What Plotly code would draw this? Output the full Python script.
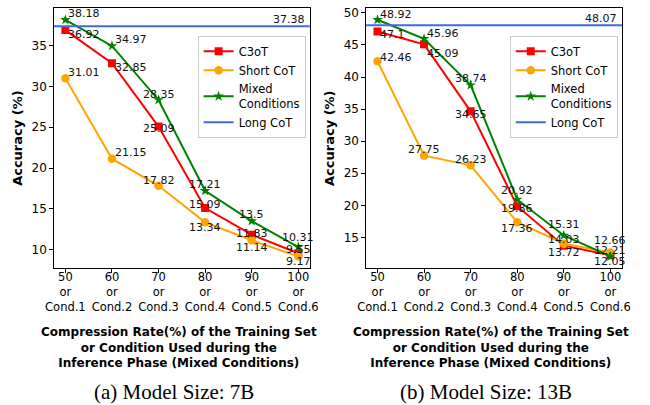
import plotly.graph_objects as go

# ---------------- data ----------------
x_rates = [50, 60, 70, 80, 90, 100]
tick_labels = ["50<br>or<br>Cond.1", "60<br>or<br>Cond.2", "70<br>or<br>Cond.3",
               "80<br>or<br>Cond.4", "90<br>or<br>Cond.5", "100<br>or<br>Cond.6"]

c3ot_7b = [36.92, 32.85, 25.09, 15.09, 11.83, 9.55]
short_7b = [31.01, 21.15, 17.82, 13.34, 11.14, 9.17]
mixed_7b = [38.18, 34.97, 28.35, 17.21, 13.5, 10.31]
long_7b = 37.38

c3ot_13b = [47.1, 45.09, 34.65, 19.86, 13.72, 12.21]
short_13b = [42.46, 27.75, 26.23, 17.36, 14.03, 12.66]
mixed_13b = [48.92, 45.96, 38.74, 20.92, 15.31, 12.05]
long_13b = 48.07

series_names = ["C3oT", "Short CoT", "Mixed<br>Conditions", "Long CoT"]
captions = ["(a) Model Size: 7B", "(b) Model Size: 13B"]
x_title = ("Compression Rate(%) of the Training Set<br>"
           "or Condition Used during the<br>Inference Phase (Mixed Conditions)")
y_title = "Accuracy (%)"

# ---------------- label placement (pixel offsets: anchor, dx, dy) ----------------
lab_7b = {
    "c3ot": [("left", 1, -4), ("left", 1, -4), ("center", 0, -2), ("center", 0, 4), ("center", 0, 1), ("center", 0, 3.5)],
    "short": [("left", 1, 6), ("left", 1, 6), ("center", 0, 5), ("center", 0, -5), ("center", 0, -7), ("center", 0, -5)],
    "mixed": [("left", 1, 6), ("left", 1, 6), ("center", 0, 5), ("center", 0, 6), ("center", 0, 6.5), ("center", 0, 10)],
}
lab_13b = {
    "c3ot": [("left", 1, -3), ("left", 1, -9), ("center", 0, -3.5), ("center", 0, -2), ("center", 0, -7), ("center", 0, 5)],
    "short": [("left", 1, 4), ("center", 0, 6), ("center", 0, 6), ("center", 0, -6), ("center", 0, 4), ("center", 0, 12)],
    "mixed": [("left", 1, 5), ("left", 1, 5.5), ("center", 0, 7), ("center", 0, 8.6), ("center", 0, 11), ("center", 0, -5)],
}

W, H = 650, 405
FONT = "DejaVu Sans"
colors = {"c3ot": "#ff0000", "short": "#ffa500", "mixed": "#008000", "long": "#4169e1"}
symbols = {"c3ot": "square", "short": "circle", "mixed": "star"}
msize = {"c3ot": 8, "short": 8.5, "mixed": 8}

# plot areas in pixels
areas = [(46, 309.5), (367, 630.5)]
y_top, y_bot = 6, 267.5


def pad_range(vals):
    lo, hi = min(vals), max(vals)
    m = 0.05 * (hi - lo)
    return [lo - m, hi + m]


fig = go.Figure()
annotations = []
panels = [
    (c3ot_7b, short_7b, mixed_7b, long_7b, lab_7b),
    (c3ot_13b, short_13b, mixed_13b, long_13b, lab_13b),
]

for i, (c3, sh, mx, lg, labs) in enumerate(panels):
    xa = "x" if i == 0 else "x2"
    ya = "y" if i == 0 else "y2"
    leg = "legend" if i == 0 else "legend2"
    xr = pad_range(x_rates)
    yr = pad_range(c3 + sh + mx + [lg])
    data = {"c3ot": c3, "short": sh, "mixed": mx}
    for k, name in zip(["c3ot", "short", "mixed"], series_names[:3]):
        fig.add_trace(go.Scatter(
            x=x_rates, y=data[k], mode="lines+markers", name=name,
            line=dict(color=colors[k], width=2),
            marker=dict(symbol=symbols[k], size=msize[k], color=colors[k],
                        line=dict(width=0)),
            xaxis=xa, yaxis=ya, legend=leg,
        ))
    fig.add_trace(go.Scatter(
        x=xr, y=[lg, lg], mode="lines", name=series_names[3],
        line=dict(color=colors["long"], width=2),
        xaxis=xa, yaxis=ya, legend=leg,
    ))
    # data labels
    for k in ["c3ot", "short", "mixed"]:
        for xv, yv, (anc, dx, dy) in zip(x_rates, data[k], labs[k]):
            annotations.append(dict(
                x=xv, y=yv, xref=xa, yref=ya, text=f"{yv:g}", showarrow=False,
                xanchor=anc, yanchor="middle", xshift=dx, yshift=dy,
                font=dict(family=FONT, size=11, color="#111111"),
            ))
    annotations.append(dict(
        x=xr[1], y=lg, xref=xa, yref=ya, text=f"{lg:g}", showarrow=False,
        xanchor="right", yanchor="middle", xshift=-3, yshift=7,
        font=dict(family=FONT, size=11, color="#111111"),
    ))
    x0, x1 = areas[i]
    cx = (x0 + x1) / 2
    # x title
    annotations.append(dict(
        x=(cx - 3) / W, y=1 - 323 / H, xref="paper", yref="paper",
        text="<b>" + x_title.replace("<br>", "</b><br><b>") + "</b>",
        showarrow=False, xanchor="center", yanchor="top", align="center",
        font=dict(family=FONT, size=12, color="black"),
    ))
    # y title
    annotations.append(dict(
        x=(x0 - 38) / W, y=1 - (y_top + y_bot) / 2 / H, xref="paper", yref="paper",
        text="<b>" + y_title + "</b>", textangle=-90, showarrow=False,
        xanchor="center", yanchor="middle",
        font=dict(family=FONT, size=13, color="black"),
    ))
    # caption
    annotations.append(dict(
        x=(cx - 8) / W, y=1 - 392 / H, xref="paper", yref="paper",
        text=captions[i], showarrow=False, xanchor="center", yanchor="middle",
        font=dict(family="Liberation Serif", size=21, color="black"),
    ))

    axis_common = dict(showline=True, linecolor="black", linewidth=1, mirror=True,
                       ticks="outside", ticklen=3.5, tickwidth=1, tickcolor="black",
                       showgrid=False, zeroline=False)
    fig.update_layout(**{
        ("xaxis" if i == 0 else "xaxis2"): dict(
            domain=[x0 / W, x1 / W], range=xr, tickvals=x_rates, ticktext=tick_labels,
            anchor=ya, tickfont=dict(family=FONT, size=11.5, color="black"),
            ticklabelstandoff=-5, **axis_common),
        ("yaxis" if i == 0 else "yaxis2"): dict(
            domain=[1 - y_bot / H, 1 - y_top / H], range=yr, dtick=5,
            anchor=xa, tickfont=dict(family=FONT, size=12, color="black"),
            **axis_common),
    })

legend_common = dict(
    xanchor="left", yanchor="top", bgcolor="rgba(255,255,255,0.8)",
    bordercolor="#cccccc", borderwidth=1,
    font=dict(family=FONT, size=11.5, color="black"), tracegroupgap=0,
    itemwidth=30,
)
fig.update_layout(
    width=W, height=H, autosize=False,
    margin=dict(l=0, r=0, t=0, b=0),
    paper_bgcolor="white", plot_bgcolor="white",
    showlegend=True,
    legend=dict(x=194 / W, y=1 - 34 / H, **legend_common),
    legend2=dict(x=515 / W, y=1 - 34 / H, **legend_common),
    annotations=annotations,
)

fig.write_html("out.html", config={"displayModeBar": False},
               post_script="document.body.style.margin='0px';"
                           "document.body.style.overflow='hidden';")
